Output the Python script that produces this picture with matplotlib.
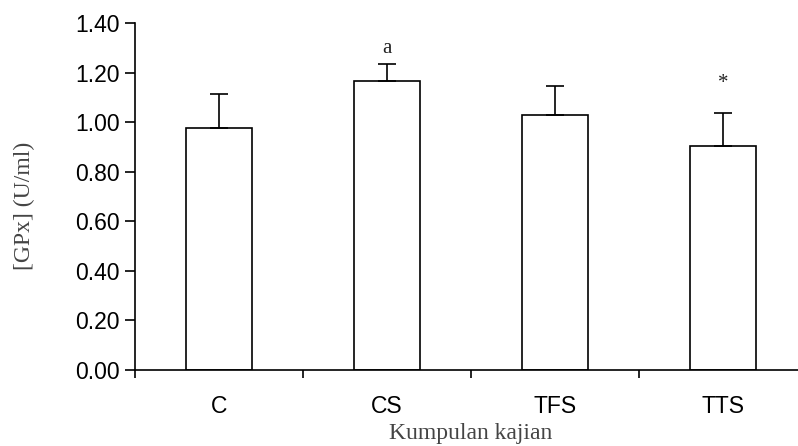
import matplotlib
matplotlib.use("Agg")
import matplotlib.pyplot as plt

groups = ["C", "CS", "TFS", "TTS"]
means = [0.975, 1.165, 1.029, 0.905]
errors = [0.137, 0.069, 0.118, 0.130]
marks = ["", "a", "", "*"]

SANS = "Liberation Sans"
SERIF = "Liberation Serif"

fig = plt.figure(figsize=(7.98, 4.46), dpi=100)
ax = fig.add_axes([0.1692, 0.1704, 0.8308, 0.7780])

x = list(range(len(groups)))
ax.bar(x, means, width=0.39, color="white", edgecolor="black", linewidth=1.2,
       zorder=2)
ax.errorbar(x, means, yerr=[[0] * len(errors), errors], fmt="none",
            ecolor="black", elinewidth=1.2, capsize=6.5, capthick=1.2, zorder=3)

# significance letters above the error bars
for xi, m, e, s in zip(x, means, errors, marks):
    if not s:
        continue
    off = 0.062 if s == "a" else 0.12
    ax.text(xi, m + e + off, s, ha="center", va="center", fontsize=15,
            family=SERIF, color="#222222")

ax.set_xlim(-0.5, 3.446)
ax.set_ylim(0, 1.40)
ax.set_yticks([0, 0.2, 0.4, 0.6, 0.8, 1.0, 1.2, 1.4])
ax.set_yticklabels([f"{v:.2f}" for v in ax.get_yticks()], family=SANS,
                   fontsize=16.5)
ax.set_xticks([-0.5, 0.5, 1.5, 2.5])
ax.set_xticklabels([])
ax.set_xticks(x, minor=True)
ax.set_xticklabels(groups, minor=True, family=SANS, fontsize=16.5)
ax.tick_params(axis="x", which="minor", length=0, pad=18)
ax.tick_params(axis="x", which="major", length=6, width=1.2, direction="out")
ax.tick_params(axis="y", length=7, width=1.2, direction="out", pad=4)

for side in ["top", "right"]:
    ax.spines[side].set_visible(False)
for side in ["left", "bottom"]:
    ax.spines[side].set_linewidth(1.2)

ax.set_ylabel("[GPx] (U/ml)", family=SERIF, fontsize=17, color="#444444")
ax.set_xlabel("Kumpulan kajian", family=SERIF, fontsize=17, color="#444444")
ax.xaxis.set_label_coords((471 - 135) / 663, -0.154)
ax.yaxis.set_label_coords(-0.151, 0.474)

fig.savefig("out.png", dpi=100)
